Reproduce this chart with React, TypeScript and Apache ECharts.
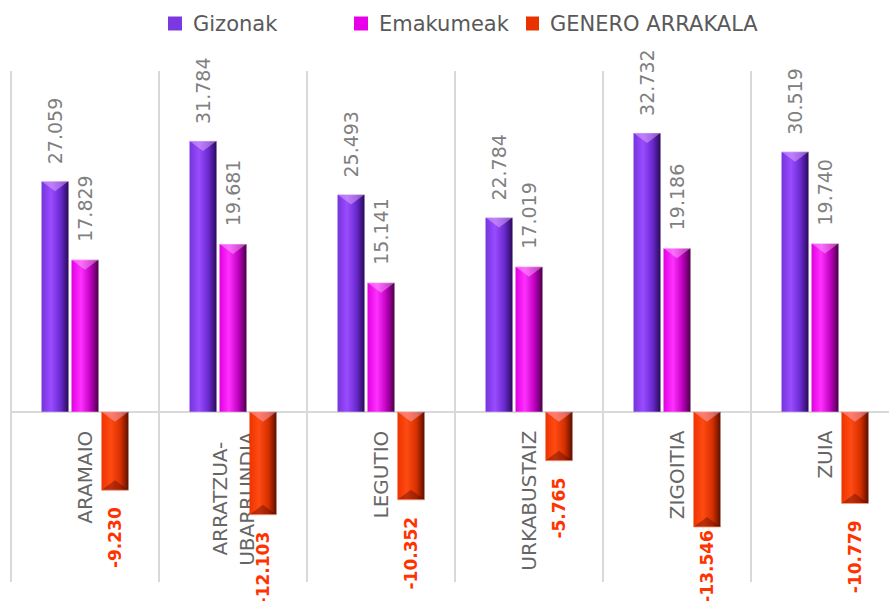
import React, { useEffect, useRef } from "react";
import * as echarts from "echarts";

const categories = ["ARAMAIO", "ARRATZUA-UBARRUNDIA", "LEGUTIO", "URKABUSTAIZ", "ZIGOITIA", "ZUIA"];
const gizonak = [27059, 31784, 25493, 22784, 32732, 30519];
const emakumeak = [17829, 19681, 15141, 17019, 19186, 19740];
const generoArrakala = [-9230, -12103, -10352, -5765, -13546, -10779];
const seriesNames = ["Gizonak", "Emakumeak", "GENERO ARRAKALA"];

const FONT = "DejaVu Sans";
const BAR_W = 27;
const BAR_GAP = 0.11;
const Y_MIN = -20000;
const Y_MAX = 40000;
const GRID_TOP = 71;
const GRID_BOTTOM = 19;
const CHART_H = 601;

const fmt = (v: number) => {
  const s = Math.abs(Math.round(v)).toString().replace(/\B(?=(\d{3})+(?!\d))/g, ".");
  return (v < 0 ? "-" : "") + s;
};

const grad = (stops: string[]) =>
  new echarts.graphic.LinearGradient(1, 0, 0, 0, [
    { offset: 0, color: stops[0] },
    { offset: 0.3, color: stops[1] },
    { offset: 0.65, color: stops[2] },
    { offset: 1, color: stops[3] },
  ]);

// gradient from right (dark) to left
const purple = ["#2a0a58", "#6a2ad0", "#9a4cff", "#7434dc"];
const magenta = ["#4a004a", "#c000c0", "#ff30ff", "#e000e0"];
const red = ["#5a1000", "#d83000", "#ff4a12", "#ec3400"];

export default function App() {
  const ref = useRef<HTMLDivElement>(null);
  useEffect(() => {
    if (!ref.current) return;
    const chart = echarts.init(ref.current, undefined, { renderer: "svg" });
    const gridH = CHART_H - GRID_TOP - GRID_BOTTOM;
    const pxPerUnit = gridH / (Y_MAX - Y_MIN);
    // distance from grid bottom up to the zero line, derived from the value range
    const zeroOffset = pxPerUnit * (0 - Y_MIN);
    const zeroY = GRID_TOP + pxPerUnit * Y_MAX;
    const labelBase = {
      show: true,
      rotate: 90,
      verticalAlign: "middle" as const,
      fontFamily: FONT,
    };
    const NEG_LABEL_LEN = 73;
    // keep negative labels inside the chart when they would run far past the bottom edge
    const negData = generoArrakala.map((v) => {
      const barBottom = zeroY - v * pxPerUnit;
      const over = barBottom + 17 + NEG_LABEL_LEN > CHART_H + 8;
      return over ? { value: v, label: { distance: 3 } } : v;
    });
    chart.setOption({
      animation: false,
      backgroundColor: "#ffffff",
      legend: [
        {
          left: 168, top: 13, padding: 0, itemWidth: 14, itemHeight: 14, icon: "rect", selectedMode: false,
          data: [{ name: seriesNames[0], itemStyle: { color: "#7a38e0" } }],
          textStyle: { fontSize: 21, color: "#595959", fontFamily: FONT, padding: [0, 0, 0, 6] },
        },
        {
          left: 354, top: 13, padding: 0, itemWidth: 14, itemHeight: 14, icon: "rect", selectedMode: false,
          data: [{ name: seriesNames[1], itemStyle: { color: "#e800e8" } }],
          textStyle: { fontSize: 21, color: "#595959", fontFamily: FONT, padding: [0, 0, 0, 6] },
        },
        {
          left: 526, top: 13, padding: 0, itemWidth: 13, itemHeight: 14, icon: "rect", selectedMode: false,
          data: [{ name: seriesNames[2], itemStyle: { color: "#e83200" } }],
          textStyle: { fontSize: 21, color: "#595959", fontFamily: FONT, padding: [0, 0, 0, 6] },
        },
      ],
      grid: { left: 11, right: -10, top: GRID_TOP, bottom: GRID_BOTTOM, containLabel: false, outerBoundsMode: "none" },
      xAxis: {
        type: "category",
        data: categories,
        offset: -zeroOffset,
        axisLine: { onZero: false, lineStyle: { color: "#d9d9d9", width: 2 } },
        axisTick: { show: false },
        splitLine: { show: true, lineStyle: { color: "#d9d9d9", width: 2 } },
        axisLabel: {
          interval: 0,
          rotate: 90,
          margin: 19,
          fontSize: 20,
          lineHeight: 27,
          color: "#666666",
          fontFamily: FONT,
          hideOverlap: false,
          formatter: (v: string) =>
            v.includes("-")
              ? v.split("-").map((p, i, a) => `{c|${p}${i < a.length - 1 ? "-" : ""}}`).join("\n")
              : v,
          rich: {
            c: { width: 136, align: "center", fontSize: 20, lineHeight: 27, color: "#666666", fontFamily: FONT },
          },
        },
      },
      yAxis: {
        type: "value",
        min: Y_MIN,
        max: Y_MAX,
        show: false,
        splitLine: { show: false },
      },
      series: [
        {
          name: seriesNames[0],
          type: "bar",
          data: gizonak,
          barWidth: BAR_W,
          barGap: BAR_GAP * 100 + "%",
          itemStyle: { color: grad(purple) },
          label: { ...labelBase, position: "top", align: "left", distance: 17, color: "#808080", fontSize: 19, formatter: (p: any) => fmt(p.value) },
        },
        {
          name: seriesNames[1],
          type: "bar",
          data: emakumeak,
          barWidth: BAR_W,
          barGap: BAR_GAP * 100 + "%",
          itemStyle: { color: grad(magenta) },
          label: { ...labelBase, position: "top", align: "left", distance: 18, color: "#808080", fontSize: 19, formatter: (p: any) => fmt(p.value) },
        },
        {
          name: seriesNames[2],
          type: "bar",
          data: negData,
          barWidth: BAR_W,
          barGap: BAR_GAP * 100 + "%",
          itemStyle: { color: grad(red) },
          label: { ...labelBase, position: "bottom", align: "right", distance: 17, color: "#ff3300", fontWeight: "bold", fontSize: 17, formatter: (p: any) => fmt(p.value) },
        },
        {
          type: "custom",
          silent: true,
          z: 5,
          data: categories.map((_, i) => [i, gizonak[i], emakumeak[i], generoArrakala[i]]),
          encode: { x: 0, y: [1, 2, 3] },
          renderItem: (params: any, api: any) => {
            const idx = api.value(0);
            const zero = api.coord([idx, 0]);
            const gap = BAR_W * BAR_GAP;
            const total = 3 * BAR_W + 2 * gap;
            const children: any[] = [];
            const th = 10;
            for (let k = 0; k < 3; k++) {
              const v = api.value(k + 1);
              const x0 = zero[0] - total / 2 + k * (BAR_W + gap);
              const x1 = x0 + BAR_W;
              const xc = (x0 + x1) / 2;
              const end = api.coord([idx, v])[1];
              const top = Math.min(end, zero[1]);
              const bottom = Math.max(end, zero[1]);
              children.push({
                type: "polygon",
                shape: { points: [[x0, top], [x1, top], [xc, top + th]] },
                style: { fill: "rgba(255,210,255,0.38)" },
              });
              children.push({
                type: "line",
                shape: { x1: x0, y1: top, x2: x1, y2: top },
                style: { stroke: "rgba(255,230,255,0.55)", lineWidth: 1 },
              });
              if (v < 0) {
                children.push({
                  type: "polygon",
                  shape: { points: [[x0, bottom], [x1, bottom], [xc, bottom - th]] },
                  style: { fill: "rgba(60,0,0,0.35)" },
                });
                children.push({
                  type: "line",
                  shape: { x1: x0, y1: bottom, x2: x1, y2: bottom },
                  style: { stroke: "rgba(255,160,130,0.8)", lineWidth: 1 },
                });
              }
            }
            return { type: "group", children };
          },
        },
      ],
    });
    return () => chart.dispose();
  }, []);
  return (
    <div
      ref={ref}
      style={{ position: "fixed", left: 0, top: 0, width: 889, height: CHART_H, background: "#fff" }}
    />
  );
}
